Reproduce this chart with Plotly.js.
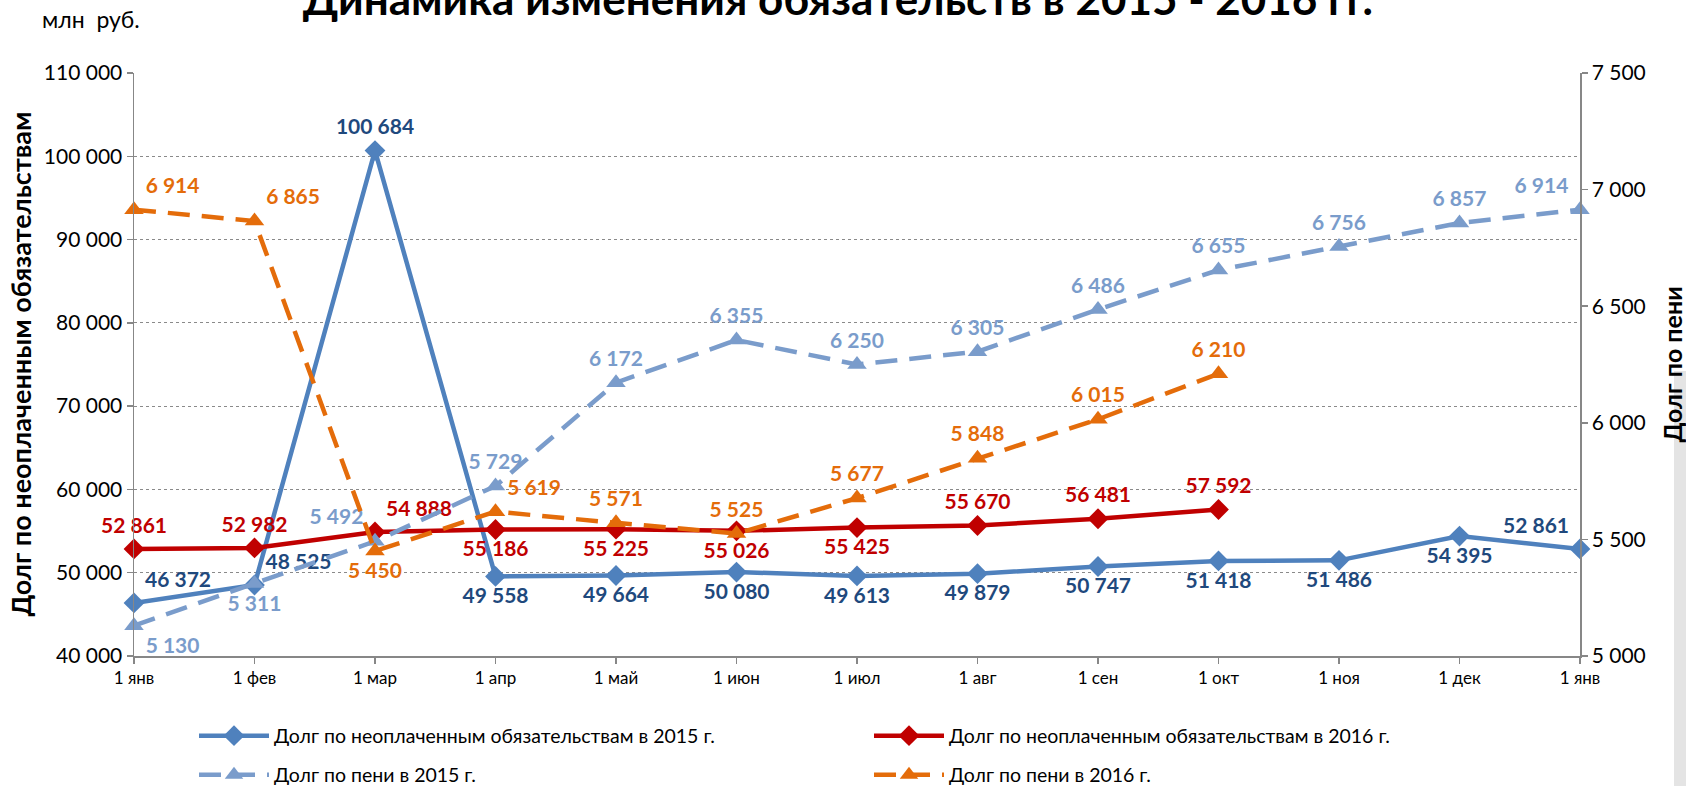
<!DOCTYPE html>
<html>
<head>
<meta charset="utf-8">
<script src="https://cdn.plot.ly/plotly-3.0.1.min.js"></script>
<style>
html,body{margin:0;padding:0;background:#fff;}
#wrap{position:relative;width:1686px;height:786px;overflow:hidden;background:#fff;}
#edge{position:absolute;left:1674px;top:371px;width:12px;height:415px;background:#e4e4e4;z-index:0;}
#chart{position:absolute;left:0;top:0;width:1686px;height:786px;z-index:1;}
</style>
</head>
<body>
<div id="wrap"><div id="edge"></div><div id="chart"></div></div>
<script>
const months = ['1 янв','1 фев','1 мар','1 апр','1 май','1 июн','1 июл','1 авг','1 сен','1 окт','1 ноя','1 дек','1 янв'];
const obl2015 = [46372,48525,100684,49558,49664,50080,49613,49879,50747,51418,51486,54395,52861];
const obl2016 = [52861,52982,54888,55186,55225,55026,55425,55670,56481,57592];
const peni2015 = [5130,5311,5492,5729,6172,6355,6250,6305,6486,6655,6756,6857,6914];
const peni2016 = [6914,6865,5450,5619,5571,5525,5677,5848,6015,6210];

const names = [
  'Долг по неоплаченным обязательствам в 2015 г.',
  'Долг по неоплаченным обязательствам в 2016 г.',
  'Долг по пени в 2015 г.',
  'Долг по пени в 2016 г.'
];

const pos2015 = ['top right','top right','top center','bottom center','bottom center','bottom center','bottom center','bottom center','bottom center','bottom center','bottom center','bottom center','top left'];
const pos2016 = ['top center','top center','top right','bottom center','bottom center','bottom center','bottom center','top center','top center','top center'];
const posP2015 = ['bottom right','bottom center','top left','top center','top center','top center','top center','top center','top center','top center','top center','top center','top left'];
const posP2016 = ['top right','top right','bottom center','top right','top center','top center','top center','top center','top center','top center'];

const fmt = v => String(v).replace(/\B(?=(\d{3})+(?!\d))/g, ' ');
const idx = arr => arr.map((_, i) => i);
const FONT = 'Lato, "Open Sans", sans-serif';
const LBL = 21;

const traces = [
  {x: idx(obl2015), y: obl2015, name: names[0], yaxis: 'y', mode: 'lines+markers+text',
   line: {color: '#4F81BD', width: 4.5}, marker: {symbol: 'diamond', size: 16, color: '#4F81BD'},
   text: obl2015.map(fmt), textposition: pos2015, textfont: {family: FONT, size: LBL, color: '#1F497D', weight: 'bold'},
   legend: 'legend', cliponaxis: false},
  {x: idx(obl2016), y: obl2016, name: names[1], yaxis: 'y', mode: 'lines+markers+text',
   line: {color: '#C00000', width: 4.5}, marker: {symbol: 'diamond', size: 16, color: '#C00000'},
   text: obl2016.map(fmt), textposition: pos2016, textfont: {family: FONT, size: LBL, color: '#C00000', weight: 'bold'},
   legend: 'legend', cliponaxis: false},
  {x: idx(peni2015), y: peni2015, name: names[2], yaxis: 'y2', mode: 'lines+markers+text',
   line: {color: '#7A9CCB', width: 4.5, dash: '22px,12px'}, marker: {symbol: 'triangle-up', size: 17, color: '#7A9CCB'},
   text: peni2015.map(fmt), textposition: posP2015, textfont: {family: FONT, size: LBL, color: '#7A9CCB', weight: 'bold'},
   legend: 'legend2', cliponaxis: false},
  {x: idx(peni2016), y: peni2016, name: names[3], yaxis: 'y2', mode: 'lines+markers+text',
   line: {color: '#E46C0A', width: 4.5, dash: '22px,12px'}, marker: {symbol: 'triangle-up', size: 17, color: '#E46C0A'},
   text: peni2016.map(fmt), textposition: posP2016, textfont: {family: FONT, size: LBL, color: '#E46C0A', weight: 'bold'},
   legend: 'legend2', cliponaxis: false}
];

const L = 134, R = 1580, T = 73, B = 656, W = 1686, H = 786;
const pw = R - L, ph = B - T;
const px = x => (x - L) / pw;
const py = y => (B - y) / ph;

const layout = {
  width: W, height: H,
  margin: {l: L, r: W - R, t: T, b: H - B, pad: 0, autoexpand: false},
  paper_bgcolor: 'rgba(0,0,0,0)', plot_bgcolor: '#ffffff',
  separators: ', ',
  font: {family: FONT, color: '#000000'},
  showlegend: true,
  title: {text: 'Динамика изменения обязательств в 2015 - 2016 гг.', font: {family: FONT, size: 44, color: '#000', weight: 'bold'},
          x: 0.497, xanchor: 'center', y: 1.0, yanchor: 'middle', yref: 'container'},
  xaxis: {range: [0, 12], tickvals: idx(months), ticktext: months, showgrid: false, zeroline: false,
          showline: true, linecolor: '#878787', linewidth: 1.5, ticks: 'outside', ticklen: 6, tickcolor: '#878787', tickwidth: 1.5,
          tickfont: {family: FONT, size: 17, color: '#000'}, fixedrange: true},
  yaxis: {range: [40000, 110000], dtick: 10000, tick0: 40000, tickformat: ',d', showgrid: true, gridcolor: '#8a8a8a', griddash: 'dot', gridwidth: 1,
          zeroline: false, showline: true, linecolor: '#878787', linewidth: 1.5, ticks: 'outside', ticklen: 6, tickcolor: '#878787', tickwidth: 1.5,
          tickfont: {family: FONT, size: 21, color: '#000'}, fixedrange: true},
  yaxis2: {range: [5000, 7500], dtick: 500, tick0: 5000, tickformat: ',d', overlaying: 'y', side: 'right', showgrid: false, zeroline: false,
          showline: true, linecolor: '#878787', linewidth: 1.5, ticks: 'outside', ticklen: 6, tickcolor: '#878787', tickwidth: 1.5,
          tickfont: {family: FONT, size: 21, color: '#000'}, fixedrange: true},
  legend: {orientation: 'h', x: px(194), y: py(736), xanchor: 'left', yanchor: 'middle', entrywidth: 590, itemwidth: 70,
           font: {family: FONT, size: 19.5, color: '#000'}, bgcolor: 'rgba(0,0,0,0)'},
  legend2: {orientation: 'h', x: px(194), y: py(775), xanchor: 'left', yanchor: 'middle', entrywidth: 590, itemwidth: 70,
           font: {family: FONT, size: 19.5, color: '#000'}, bgcolor: 'rgba(0,0,0,0)'},
  annotations: [
    {text: 'млн  руб.', xref: 'paper', yref: 'paper', x: px(40), y: py(19), xanchor: 'left', yanchor: 'middle',
     showarrow: false, font: {family: FONT, size: 23, color: '#000'}},
    {text: 'Долг по неоплаченным обязательствам', xref: 'paper', yref: 'paper', x: px(20), y: 0.5, xanchor: 'center', yanchor: 'middle',
     textangle: -90, showarrow: false, font: {family: FONT, size: 27, color: '#000', weight: 'bold'}},
    {text: 'Долг по пени', xref: 'paper', yref: 'paper', x: px(1671), y: 0.5, xanchor: 'center', yanchor: 'middle',
     textangle: -90, showarrow: false, font: {family: FONT, size: 25, color: '#000', weight: 'bold'}}
  ]
};

Plotly.newPlot('chart', traces, layout, {displayModeBar: false, staticPlot: true});
</script>
</body>
</html>
